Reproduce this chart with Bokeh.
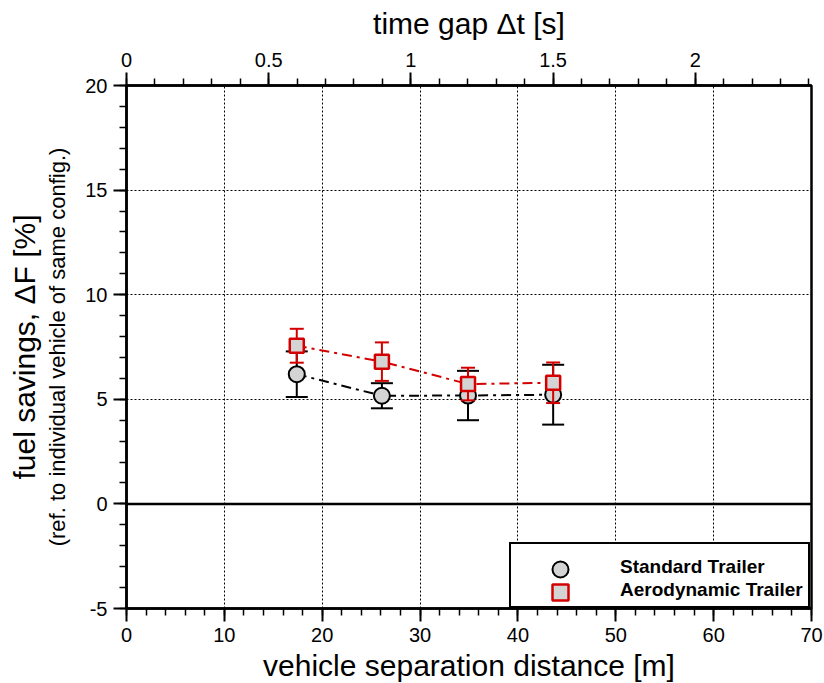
from bokeh.plotting import figure
from bokeh.models import (Range1d, LinearAxis, SingleIntervalTicker, NumeralTickFormatter,
                          Span, Legend, LegendItem, Title)
from bokeh.embed import file_html
from bokeh.resources import INLINE

# ---- data ----
separation_m = [17.4, 26.1, 34.9, 43.6]
standard_mean = [6.20, 5.17, 5.18, 5.22]
standard_err = [1.09, 0.60, 1.18, 1.43]
aero_mean = [7.56, 6.80, 5.73, 5.79]
aero_err = [0.81, 0.92, 0.78, 0.97]
speed_ms = 29.06  # 65 mph, converts distance to time gap
x_limits = (0, 70)
y_limits = (-5, 20)
series_labels = ["Standard Trailer", "Aerodynamic Trailer"]

FONT = "Liberation Sans"
RED = "#d40000"
GRAY = "#d4d4d4"

p = figure(frame_width=685, frame_height=523,
           x_range=Range1d(*x_limits), y_range=Range1d(*y_limits),
           output_backend="svg", toolbar_location=None, title=None,
           min_border_left=126, min_border_right=13, min_border_top=85, min_border_bottom=75)
p.background_fill_color = "white"
p.border_fill_color = "white"
p.outline_line_color = "black"
p.outline_line_width = 2.5

xb = p.below[0]
yl = p.left[0]

p.extra_x_ranges = {"time": Range1d(x_limits[0] / speed_ms, x_limits[1] / speed_ms)}
top = LinearAxis(x_range_name="time", axis_label="time gap \u0394t [s]")
p.add_layout(top, "above")


def style_axis(ax, interval):
    ax.ticker = SingleIntervalTicker(interval=interval, num_minor_ticks=5)
    ax.axis_line_width = 2.5
    ax.axis_line_color = "black"
    ax.major_tick_line_width = 2
    ax.minor_tick_line_width = 1.5
    ax.major_tick_line_color = "black"
    ax.minor_tick_line_color = "black"
    ax.major_tick_out = 13
    ax.major_tick_in = 0
    ax.minor_tick_out = 7
    ax.minor_tick_in = 0
    ax.major_label_text_font = FONT
    ax.major_label_text_font_size = "20px"
    ax.major_label_text_color = "black"
    ax.major_label_standoff = 6
    ax.axis_label_text_font = FONT
    ax.axis_label_text_font_style = "normal"
    ax.axis_label_text_color = "black"
    ax.axis_label_text_font_size = "30px"


style_axis(xb, 10)
style_axis(yl, 5)
style_axis(top, 0.5)
top.formatter = NumeralTickFormatter(format="0.[0]")
xb.formatter = NumeralTickFormatter(format="0")
yl.formatter = NumeralTickFormatter(format="0")
xb.axis_label = "vehicle separation distance [m]"
xb.axis_label_standoff = 4
top.axis_label_standoff = 10
yl.axis_label = "(ref. to individual vehicle of same config.)"
yl.axis_label_text_font_size = "22px"
yl.axis_label_standoff = 12

p.add_layout(Title(text="fuel savings, \u0394F [%]", align="center", text_font=FONT,
                   text_font_size="30px", text_font_style="normal", text_color="black",
                   standoff=4, offset=0), "left")

xg = p.xgrid[0]
yg = p.ygrid[0]
for g in (xg, yg):
    g.grid_line_color = "black"
    g.grid_line_width = 1
    g.grid_line_dash = "2 2"
xg.ticker = xb.ticker
yg.ticker = yl.ticker

p.add_layout(Span(location=0, dimension="width", line_color="black", line_width=2.5, level="underlay"))

std_lo = [m - e for m, e in zip(standard_mean, standard_err)]
std_hi = [m + e for m, e in zip(standard_mean, standard_err)]
aer_lo = [m - e for m, e in zip(aero_mean, aero_err)]
aer_hi = [m + e for m, e in zip(aero_mean, aero_err)]

# standard trailer
p.line(separation_m, standard_mean, line_color="black", line_width=2, line_dash="10 5 3 5")
p.segment(separation_m, std_lo, separation_m, std_hi, line_color="black", line_width=2)
p.scatter(separation_m, std_lo, marker="dash", size=22, line_color="black", line_width=2)
p.scatter(separation_m, std_hi, marker="dash", size=22, line_color="black", line_width=2)
r_std = p.scatter(separation_m, standard_mean, marker="circle", size=16, fill_color=GRAY,
                  line_color="black", line_width=2)

# aerodynamic trailer
p.line(separation_m, aero_mean, line_color=RED, line_width=2, line_dash="10 5 3 5")
p.segment(separation_m, aer_lo, separation_m, aer_hi, line_color=RED, line_width=2)
p.scatter(separation_m, aer_lo, marker="dash", size=14, line_color=RED, line_width=2)
p.scatter(separation_m, aer_hi, marker="dash", size=14, line_color=RED, line_width=2)
r_aer = p.scatter(separation_m, aero_mean, marker="square", size=14, fill_color=GRAY,
                  line_color=RED, line_width=2.5)

# legend box with labels
LEG_X, LEG_PAD, LEG_GW = 383, 5, 92
legend = Legend(items=[LegendItem(label=series_labels[0], renderers=[r_std]),
                       LegendItem(label=series_labels[1], renderers=[r_aer])],
                location=(LEG_X, 0), margin=0, padding=LEG_PAD, spacing=0,
                glyph_width=LEG_GW, glyph_height=23, label_standoff=12,
                label_text_font=FONT, label_text_font_size="19px", label_text_font_style="bold",
                label_text_color="black", label_height=23,
                title=" ", title_text_font_size="6px", title_standoff=0,
                border_line_color="black", border_line_width=2.5, border_line_alpha=1.0,
                background_fill_color="white", background_fill_alpha=1.0)
p.add_layout(legend, "center")

# full-size legend markers laid over the small ones
for r, row_from_bottom in ((r_std, 1), (r_aer, 0)):
    cy = LEG_PAD + 11.5 + 23 * row_from_bottom
    ov = Legend(items=[LegendItem(label=" ", renderers=[r])],
                location=(LEG_X + LEG_PAD + LEG_GW / 2 - 20, cy - 20), margin=0, padding=0,
                spacing=0, glyph_width=40, glyph_height=40, label_standoff=0,
                label_text_font_size="1px", label_height=1, label_width=1,
                border_line_color=None, background_fill_alpha=0)
    p.add_layout(ov, "center")

open("out.html", "w").write(file_html(p, INLINE))
